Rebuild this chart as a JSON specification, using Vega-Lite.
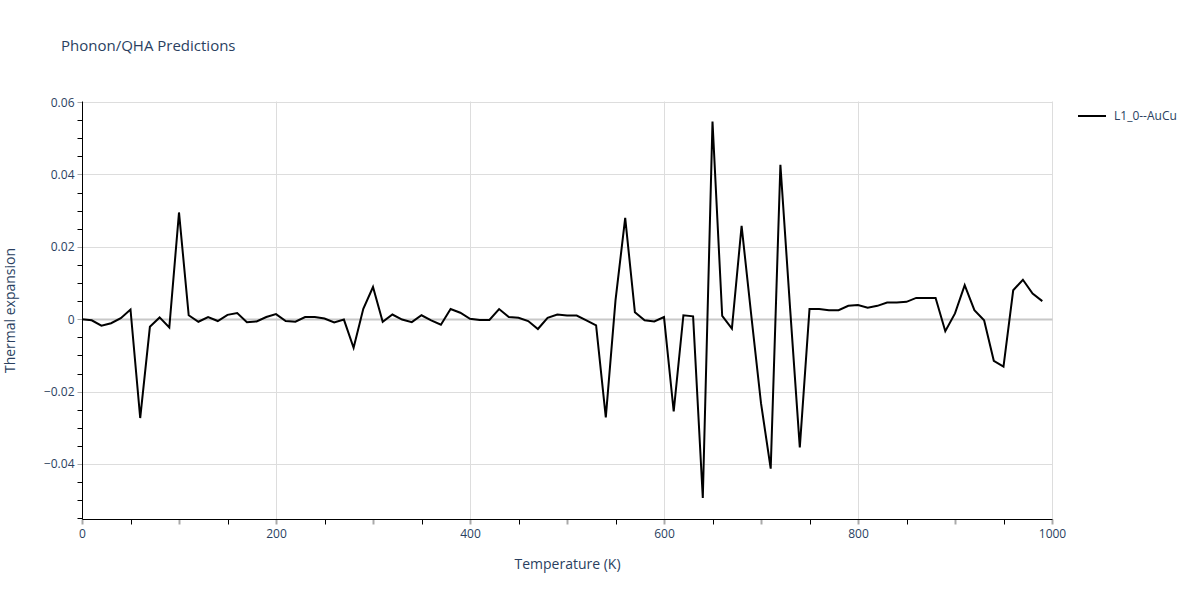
{
  "$schema": "https://vega.github.io/schema/vega-lite/v6.json",
  "autosize": {"type": "none"},
  "width": 970,
  "height": 418,
  "padding": {"left": 82, "top": 101, "right": 148, "bottom": 81},
  "background": "white",
  "title": {
    "text": "Phonon/QHA Predictions",
    "anchor": "start",
    "frame": "group",
    "orient": "top",
    "offset": 0,
    "baseline": "bottom",
    "dx": -21,
    "dy": -27,
    "font": "Open Sans",
    "fontSize": 15,
    "fontWeight": "normal",
    "color": "#2a3f5f"
  },
  "config": {
    "view": {"stroke": null},
    "font": "Open Sans",
    "axis": {
      "labelFont": "Open Sans",
      "labelFontSize": 12,
      "labelColor": "#2a3f5f",
      "titleFont": "Open Sans",
      "titleFontSize": 14,
      "titleFontWeight": "normal",
      "titleColor": "#2a3f5f",
      "domainColor": "#000000",
      "domainWidth": 1,
      "tickSize": 5,
      "gridColor": "#dddddd"
    }
  },
  "data": {
    "values": [
      {"T": 0, "alpha": 0.0, "series": "L1_0--AuCu"},
      {"T": 10, "alpha": -0.0003, "series": "L1_0--AuCu"},
      {"T": 20, "alpha": -0.0018, "series": "L1_0--AuCu"},
      {"T": 30, "alpha": -0.0011, "series": "L1_0--AuCu"},
      {"T": 40, "alpha": 0.0003, "series": "L1_0--AuCu"},
      {"T": 50, "alpha": 0.0027, "series": "L1_0--AuCu"},
      {"T": 60, "alpha": -0.0273, "series": "L1_0--AuCu"},
      {"T": 70, "alpha": -0.0021, "series": "L1_0--AuCu"},
      {"T": 80, "alpha": 0.0005, "series": "L1_0--AuCu"},
      {"T": 90, "alpha": -0.0023, "series": "L1_0--AuCu"},
      {"T": 100, "alpha": 0.0295, "series": "L1_0--AuCu"},
      {"T": 110, "alpha": 0.0011, "series": "L1_0--AuCu"},
      {"T": 120, "alpha": -0.0007, "series": "L1_0--AuCu"},
      {"T": 130, "alpha": 0.0006, "series": "L1_0--AuCu"},
      {"T": 140, "alpha": -0.0005, "series": "L1_0--AuCu"},
      {"T": 150, "alpha": 0.0012, "series": "L1_0--AuCu"},
      {"T": 160, "alpha": 0.0017, "series": "L1_0--AuCu"},
      {"T": 170, "alpha": -0.0008, "series": "L1_0--AuCu"},
      {"T": 180, "alpha": -0.0006, "series": "L1_0--AuCu"},
      {"T": 190, "alpha": 0.0006, "series": "L1_0--AuCu"},
      {"T": 200, "alpha": 0.0014, "series": "L1_0--AuCu"},
      {"T": 210, "alpha": -0.0005, "series": "L1_0--AuCu"},
      {"T": 220, "alpha": -0.0007, "series": "L1_0--AuCu"},
      {"T": 230, "alpha": 0.0006, "series": "L1_0--AuCu"},
      {"T": 240, "alpha": 0.0006, "series": "L1_0--AuCu"},
      {"T": 250, "alpha": 0.0002, "series": "L1_0--AuCu"},
      {"T": 260, "alpha": -0.0009, "series": "L1_0--AuCu"},
      {"T": 270, "alpha": -0.0001, "series": "L1_0--AuCu"},
      {"T": 280, "alpha": -0.0079, "series": "L1_0--AuCu"},
      {"T": 290, "alpha": 0.0029, "series": "L1_0--AuCu"},
      {"T": 300, "alpha": 0.0089, "series": "L1_0--AuCu"},
      {"T": 310, "alpha": -0.0007, "series": "L1_0--AuCu"},
      {"T": 320, "alpha": 0.0013, "series": "L1_0--AuCu"},
      {"T": 330, "alpha": -0.0001, "series": "L1_0--AuCu"},
      {"T": 340, "alpha": -0.0008, "series": "L1_0--AuCu"},
      {"T": 350, "alpha": 0.0011, "series": "L1_0--AuCu"},
      {"T": 360, "alpha": -0.0003, "series": "L1_0--AuCu"},
      {"T": 370, "alpha": -0.0015, "series": "L1_0--AuCu"},
      {"T": 380, "alpha": 0.0028, "series": "L1_0--AuCu"},
      {"T": 390, "alpha": 0.0018, "series": "L1_0--AuCu"},
      {"T": 400, "alpha": 0.0001, "series": "L1_0--AuCu"},
      {"T": 410, "alpha": -0.0002, "series": "L1_0--AuCu"},
      {"T": 420, "alpha": -0.0002, "series": "L1_0--AuCu"},
      {"T": 430, "alpha": 0.0028, "series": "L1_0--AuCu"},
      {"T": 440, "alpha": 0.0006, "series": "L1_0--AuCu"},
      {"T": 450, "alpha": 0.0004, "series": "L1_0--AuCu"},
      {"T": 460, "alpha": -0.0005, "series": "L1_0--AuCu"},
      {"T": 470, "alpha": -0.0027, "series": "L1_0--AuCu"},
      {"T": 480, "alpha": 0.0004, "series": "L1_0--AuCu"},
      {"T": 490, "alpha": 0.0013, "series": "L1_0--AuCu"},
      {"T": 500, "alpha": 0.0010, "series": "L1_0--AuCu"},
      {"T": 510, "alpha": 0.0010, "series": "L1_0--AuCu"},
      {"T": 520, "alpha": -0.0003, "series": "L1_0--AuCu"},
      {"T": 530, "alpha": -0.0017, "series": "L1_0--AuCu"},
      {"T": 540, "alpha": -0.0271, "series": "L1_0--AuCu"},
      {"T": 550, "alpha": 0.0052, "series": "L1_0--AuCu"},
      {"T": 560, "alpha": 0.0280, "series": "L1_0--AuCu"},
      {"T": 570, "alpha": 0.0019, "series": "L1_0--AuCu"},
      {"T": 580, "alpha": -0.0003, "series": "L1_0--AuCu"},
      {"T": 590, "alpha": -0.0006, "series": "L1_0--AuCu"},
      {"T": 600, "alpha": 0.0006, "series": "L1_0--AuCu"},
      {"T": 610, "alpha": -0.0255, "series": "L1_0--AuCu"},
      {"T": 620, "alpha": 0.0011, "series": "L1_0--AuCu"},
      {"T": 630, "alpha": 0.0008, "series": "L1_0--AuCu"},
      {"T": 640, "alpha": -0.0494, "series": "L1_0--AuCu"},
      {"T": 650, "alpha": 0.0546, "series": "L1_0--AuCu"},
      {"T": 660, "alpha": 0.0009, "series": "L1_0--AuCu"},
      {"T": 670, "alpha": -0.0026, "series": "L1_0--AuCu"},
      {"T": 680, "alpha": 0.0258, "series": "L1_0--AuCu"},
      {"T": 690, "alpha": 0.0010, "series": "L1_0--AuCu"},
      {"T": 700, "alpha": -0.0232, "series": "L1_0--AuCu"},
      {"T": 710, "alpha": -0.0413, "series": "L1_0--AuCu"},
      {"T": 720, "alpha": 0.0427, "series": "L1_0--AuCu"},
      {"T": 730, "alpha": 0.0030, "series": "L1_0--AuCu"},
      {"T": 740, "alpha": -0.0354, "series": "L1_0--AuCu"},
      {"T": 750, "alpha": 0.0028, "series": "L1_0--AuCu"},
      {"T": 760, "alpha": 0.0028, "series": "L1_0--AuCu"},
      {"T": 770, "alpha": 0.0025, "series": "L1_0--AuCu"},
      {"T": 780, "alpha": 0.0025, "series": "L1_0--AuCu"},
      {"T": 790, "alpha": 0.0037, "series": "L1_0--AuCu"},
      {"T": 800, "alpha": 0.0039, "series": "L1_0--AuCu"},
      {"T": 810, "alpha": 0.0032, "series": "L1_0--AuCu"},
      {"T": 820, "alpha": 0.0037, "series": "L1_0--AuCu"},
      {"T": 830, "alpha": 0.0046, "series": "L1_0--AuCu"},
      {"T": 840, "alpha": 0.0046, "series": "L1_0--AuCu"},
      {"T": 850, "alpha": 0.0048, "series": "L1_0--AuCu"},
      {"T": 860, "alpha": 0.0059, "series": "L1_0--AuCu"},
      {"T": 870, "alpha": 0.0059, "series": "L1_0--AuCu"},
      {"T": 880, "alpha": 0.0059, "series": "L1_0--AuCu"},
      {"T": 890, "alpha": -0.0033, "series": "L1_0--AuCu"},
      {"T": 900, "alpha": 0.0016, "series": "L1_0--AuCu"},
      {"T": 910, "alpha": 0.0094, "series": "L1_0--AuCu"},
      {"T": 920, "alpha": 0.0025, "series": "L1_0--AuCu"},
      {"T": 930, "alpha": -0.0003, "series": "L1_0--AuCu"},
      {"T": 940, "alpha": -0.0115, "series": "L1_0--AuCu"},
      {"T": 950, "alpha": -0.0131, "series": "L1_0--AuCu"},
      {"T": 960, "alpha": 0.0080, "series": "L1_0--AuCu"},
      {"T": 970, "alpha": 0.0109, "series": "L1_0--AuCu"},
      {"T": 980, "alpha": 0.0071, "series": "L1_0--AuCu"},
      {"T": 990, "alpha": 0.0050, "series": "L1_0--AuCu"}
    ]
  },
  "mark": {"type": "line", "strokeWidth": 2, "clip": true},
  "encoding": {
    "x": {
      "field": "T",
      "type": "quantitative",
      "scale": {"domain": [0, 1000], "nice": false, "zero": false},
      "axis": {
        "title": "Temperature (K)",
        "titlePadding": 18,
        "values": [0, 50, 100, 150, 200, 250, 300, 350, 400, 450, 500, 550, 600, 650, 700, 750, 800, 850, 900, 950, 1000],
        "labelExpr": "datum.value % 200 === 0 ? format(datum.value, 'd') : ''",
        "labelPadding": 4,
        "labelFlush": false,
        "labelOverlap": false,
        "grid": true,
        "gridOpacity": {"condition": {"test": "datum.value % 200 === 0 && datum.value > 0", "value": 1}, "value": 0},
        "tickColor": {"condition": {"test": "datum.value % 100 === 0", "value": "#aaaaaa"}, "value": "#000000"},
        "tickWidth": {"condition": {"test": "datum.value % 100 === 0", "value": 2}, "value": 1}
      }
    },
    "y": {
      "field": "alpha",
      "type": "quantitative",
      "scale": {"domain": [-0.0552, 0.0603], "nice": false, "zero": false},
      "axis": {
        "title": "Thermal expansion",
        "titlePadding": 26,
        "values": [-0.055, -0.05, -0.045, -0.04, -0.035, -0.03, -0.025, -0.02, -0.015, -0.01, -0.005, 0, 0.005, 0.01, 0.015, 0.02, 0.025, 0.03, 0.035, 0.04, 0.045, 0.05, 0.055, 0.06],
        "labelExpr": "round(datum.value * 1000) % 20 === 0 ? (round(datum.value * 1000) === 0 ? '0' : replace(format(datum.value, '.2f'), '-', '\u2212')) : ''",
        "labelPadding": 3,
        "labelOverlap": false,
        "labelFlush": false,
        "grid": true,
        "gridOpacity": {"condition": {"test": "round(datum.value * 1000) % 20 === 0", "value": 1}, "value": 0},
        "gridColor": {"condition": {"test": "round(datum.value * 1000) === 0", "value": "#c8c8c8"}, "value": "#dddddd"},
        "gridWidth": {"condition": {"test": "round(datum.value * 1000) === 0", "value": 2}, "value": 1},
        "tickColor": {"condition": {"test": "round(datum.value * 1000) % 20 === 0", "value": "#aaaaaa"}, "value": "#000000"}
      }
    },
    "color": {
      "field": "series",
      "type": "nominal",
      "scale": {"range": ["#000000"]},
      "legend": {
        "title": null,
        "orient": "none",
        "legendX": 995,
        "legendY": 0,
        "padding": 0,
        "symbolType": "stroke",
        "symbolSize": 784,
        "symbolStrokeWidth": 2,
        "labelOffset": 7,
        "labelFont": "Open Sans",
        "labelFontSize": 12,
        "labelColor": "#2a3f5f"
      }
    }
  }
}
